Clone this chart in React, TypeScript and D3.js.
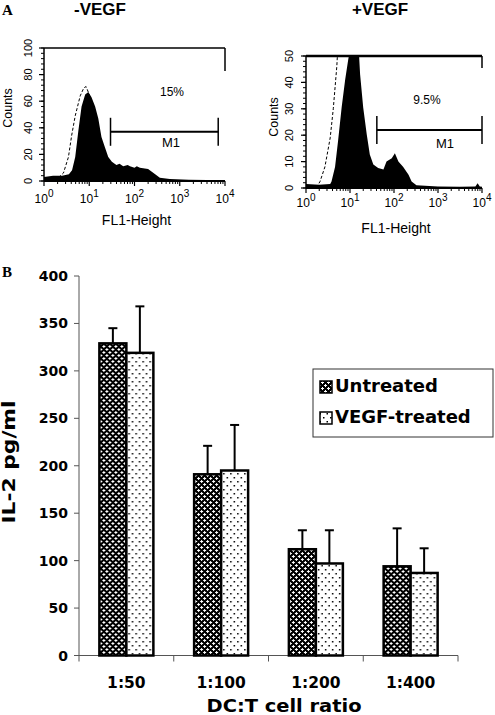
import React from 'react';
import * as d3 from 'd3';

const W = 495;
const H = 715;

// ---------- Panel A data (log10 FL1 position, counts) ----------
const negFilledLog = [0, 0.2, 0.4, 0.55, 0.62, 0.69, 0.76, 0.83, 0.91, 0.98, 1.05, 1.13, 1.2, 1.27, 1.35, 1.42, 1.5, 1.6, 1.67, 1.75, 1.85, 1.9, 2.0, 2.05, 2.12, 2.19, 2.3, 2.42, 2.56, 2.78, 3.2, 3.6, 4];
const negFilledCount = [3, 4, 4, 5, 8, 18, 38, 56, 65, 67, 63, 56, 47, 33, 25, 18, 14.5, 12, 13, 11, 12, 11, 10, 11, 10, 9.5, 9, 6, 2.5, 1.5, 1, 0.8, 0.5];
const negIsoLog = [0, 0.21, 0.33, 0.43, 0.54, 0.61, 0.69, 0.8, 0.88, 0.93, 1.0, 1.1, 1.2, 1.35, 1.5, 1.75, 2, 2.5];
const negIsoCount = [1, 1, 3, 6, 18, 34, 49, 64, 70, 71, 65, 50, 30, 12, 5, 2, 1, 0.5];

const posFilledLog = [0, 0.3, 0.55, 0.58, 0.66, 0.73, 0.81, 0.89, 0.96, 1.04, 1.12, 1.19, 1.23, 1.3, 1.38, 1.45, 1.53, 1.64, 1.76, 1.83, 1.95, 2.02, 2.1, 2.21, 2.33, 2.4, 2.51, 3, 3.5, 3.85, 3.9, 3.95, 4];
const posFilledCount = [1.5, 1.2, 1.5, 2.5, 8, 18, 30.5, 41, 48.7, 56, 60, 55, 43, 30.5, 20.4, 12.7, 8.9, 7.6, 7, 10, 11.3, 13.2, 10, 8, 5, 2.5, 1, 0.6, 0.5, 0.6, 1.8, 0.6, 0.5];
const posIsoLog = [0, 0.25, 0.32, 0.43, 0.55, 0.62, 0.7, 0.73, 0.8, 0.95, 1.05, 1.2, 1.4, 1.7, 2];
const posIsoCount = [0, 0.5, 2.5, 8, 19, 30, 46, 55, 62, 62, 45, 20, 5, 1, 0.5];

const decades = [0, 1, 2, 3, 4];
const negYTicks = [0, 20, 40, 60, 80, 100];
const posYTicks = [0, 10, 20, 30, 40, 50];
const negGate = [1.47, 3.85];
const posGate = [1.61, 4.0];
const negGateCount = 37;
const posGateCount = 22;
const negPercent = '15%';
const posPercent = '9.5%';

// ---------- Panel B data ----------
const ratios = ['1:50', '1:100', '1:200', '1:400'];
const seriesNames = ['Untreated', 'VEGF-treated'];
const untreated = [329, 191, 112, 94];
const untreatedErr = [16, 30, 20, 40];
const vegfTreated = [319, 195, 97, 87];
const vegfErr = [49, 48, 35, 26];
const bYTicks = [0, 50, 100, 150, 200, 250, 300, 350, 400];

const ARIAL = '"Liberation Sans", Arial, sans-serif';
const VERD = '"DejaVu Sans", Verdana, sans-serif';
const SERIF = '"Liberation Serif", "Times New Roman", serif';

type HistProps = {
  id: string;
  xr: [number, number];
  yr: [number, number];
  yMax: number;
  minorStep: number;
  yTicks: number[];
  filledLog: number[];
  filledCount: number[];
  isoLog: number[];
  isoCount: number[];
  gate: number[];
  gateCount: number;
  percent: string;
  percentPos: [number, number];
  m1Pos: [number, number];
  title: string;
  titleX: number;
  tickBaseline: number;
  xLabelBaseline: number;
  yLabelX: number;
  countsX: number;
  countsY: number;
  topWidth: number;
  rightEnd: number;
};

function Histogram(p: HistProps) {
  const x = d3.scaleLinear().domain([0, 4]).range(p.xr);
  const y = d3.scaleLinear().domain([0, p.yMax]).range(p.yr);
  const filled = p.filledLog.map((l, i) => [l, p.filledCount[i]] as [number, number]);
  const iso = p.isoLog.map((l, i) => [l, p.isoCount[i]] as [number, number]);
  const area = d3.area<[number, number]>().x(d => x(d[0])).y0(y(0)).y1(d => y(d[1]));
  const line = d3.line<[number, number]>().x(d => x(d[0])).y(d => y(d[1]));
  const minor: number[] = d3.range(0, p.yMax + 0.001, p.minorStep);
  const logMinor: number[] = [];
  for (let d = 0; d < 4; d++) for (let k = 2; k <= 9; k++) logMinor.push(d + Math.log10(k));
  const [x0, x1] = p.xr;
  const [yb, yt] = p.yr;
  return (
    <g>
      <defs>
        <clipPath id={p.id}>
          <rect x={x0} y={yt} width={x1 - x0} height={yb - yt} />
        </clipPath>
      </defs>
      <text x={p.titleX} y={15} textAnchor="middle" fontFamily={ARIAL} fontWeight="bold" fontSize={17}>{p.title}</text>
      <g clipPath={`url(#${p.id})`}>
        <path d={line(iso) || ''} fill="none" stroke="#000" strokeWidth={1} strokeDasharray="3,2" />
        <path d={area(filled) || ''} fill="#000" />
      </g>
      {/* frame */}
      <line x1={x0} x2={x0} y1={yb} y2={yt} stroke="#000" strokeWidth={1.5} />
      <line x1={x0} x2={x1} y1={yb} y2={yb} stroke="#000" strokeWidth={2} />
      <line x1={x0} x2={x1} y1={yt} y2={yt} stroke="#000" strokeWidth={p.topWidth} />
      <line x1={x1} x2={x1} y1={yt} y2={p.rightEnd} stroke="#000" strokeWidth={1.5} />
      {/* y ticks */}
      {minor.map(v => (
        <line key={'ym' + v} x1={x0 - 3} x2={x0} y1={y(v)} y2={y(v)} stroke="#000" strokeWidth={1} />
      ))}
      {p.yTicks.map(v => (
        <g key={'yt' + v}>
          <line x1={x0 - 5} x2={x0} y1={y(v)} y2={y(v)} stroke="#000" strokeWidth={1.2} />
          <text transform={`translate(${p.yLabelX},${y(v)}) rotate(-90)`} textAnchor="middle" fontFamily={ARIAL} fontSize={11}>{v}</text>
        </g>
      ))}
      <text transform={`translate(${p.countsX},${p.countsY}) rotate(-90)`} textAnchor="middle" fontFamily={ARIAL} fontSize={12.5}>Counts</text>
      {/* x ticks */}
      {logMinor.map(v => (
        <line key={'xm' + v} x1={x(v)} x2={x(v)} y1={yb} y2={yb + 3} stroke="#000" strokeWidth={1} />
      ))}
      {decades.map(d => (
        <g key={'xd' + d}>
          <line x1={x(d)} x2={x(d)} y1={yb} y2={yb + 5} stroke="#000" strokeWidth={1.2} />
          <text x={x(d)} y={p.tickBaseline} textAnchor="middle" fontFamily={ARIAL} fontSize={12}>
            10<tspan dy={-6} fontSize={10}>{d}</tspan>
          </text>
        </g>
      ))}
      <text x={(x0 + x1) / 2 + 2} y={p.xLabelBaseline} textAnchor="middle" fontFamily={ARIAL} fontSize={14}>FL1-Height</text>
      {/* gate */}
      <line x1={x(p.gate[0])} x2={x(p.gate[1])} y1={y(p.gateCount)} y2={y(p.gateCount)} stroke="#000" strokeWidth={2} />
      <line x1={x(p.gate[0])} x2={x(p.gate[0])} y1={y(p.gateCount) - 14} y2={y(p.gateCount) + 14} stroke="#000" strokeWidth={1.5} />
      <line x1={x(p.gate[1])} x2={x(p.gate[1])} y1={y(p.gateCount) - 14} y2={y(p.gateCount) + 14} stroke="#000" strokeWidth={1.5} />
      <text x={p.percentPos[0]} y={p.percentPos[1]} textAnchor="middle" fontFamily={ARIAL} fontSize={12}>{p.percent}</text>
      <text x={p.m1Pos[0]} y={p.m1Pos[1]} textAnchor="middle" fontFamily={ARIAL} fontSize={13}>M1</text>
    </g>
  );
}

function BarChart() {
  const x = d3.scaleBand<string>().domain(ratios).range([79, 458]).padding(0);
  const bw = x.bandwidth();
  const groupW = 54;
  const x1 = d3.scaleBand<string>().domain(seriesNames).range([0, groupW]).padding(0);
  const y = d3.scaleLinear().domain([0, 400]).range([655.5, 276]);
  const values = [untreated, vegfTreated];
  const errs = [untreatedErr, vegfErr];
  const fills = ['url(#crossPat)', 'url(#dotPat)'];
  const boundaries = [0, 1, 2, 3, 4].map(i => 79 + i * bw);
  return (
    <g>
      <text x={2} y={277} fontFamily={SERIF} fontWeight="bold" fontSize={15}>B</text>
      {/* axes */}
      <line x1={79} x2={79} y1={y(400)} y2={y(0)} stroke="#555" strokeWidth={1} />
      <line x1={79} x2={458} y1={y(0)} y2={y(0)} stroke="#555" strokeWidth={1} />
      {bYTicks.map(v => (
        <g key={'by' + v}>
          <line x1={74} x2={79} y1={y(v)} y2={y(v)} stroke="#555" strokeWidth={1} />
          <text x={68} y={y(v) + 5} textAnchor="end" fontFamily={VERD} fontWeight="bold" fontSize={14}>{v}</text>
        </g>
      ))}
      {boundaries.map((b, i) => (
        <line key={'bx' + i} x1={b} x2={b} y1={y(0)} y2={y(0) + 6} stroke="#555" strokeWidth={1} />
      ))}
      {ratios.map(r => (
        <text key={'lab' + r} x={(x(r) as number) + bw / 2} y={688} textAnchor="middle" fontFamily={VERD} fontWeight="bold" fontSize={15.5}>{r}</text>
      ))}
      {/* bars */}
      {ratios.map((r, i) => (
        <g key={'grp' + r} transform={`translate(${(x(r) as number) + (bw - groupW) / 2},0)`}>
          {seriesNames.map((s, j) => {
            const bx = x1(s) as number;
            const v = values[j][i];
            const e = errs[j][i];
            const cx = bx + x1.bandwidth() / 2;
            return (
              <g key={s}>
                <line x1={cx} x2={cx} y1={y(v)} y2={y(v + e)} stroke="#000" strokeWidth={2} />
                <line x1={cx - 4.5} x2={cx + 4.5} y1={y(v + e)} y2={y(v + e)} stroke="#000" strokeWidth={2} />
                <rect x={bx} y={y(v)} width={x1.bandwidth()} height={y(0) - y(v)} fill={fills[j]} stroke="#000" strokeWidth={2.5} />
              </g>
            );
          })}
        </g>
      ))}
      {/* axis titles */}
      <text transform="translate(15,462) rotate(-90)" textAnchor="middle" fontFamily={VERD} fontWeight="bold" fontSize={17} textLength={123} lengthAdjust="spacingAndGlyphs">IL-2 pg/ml</text>
      <text x={284} y={712} textAnchor="middle" fontFamily={VERD} fontWeight="bold" fontSize={18} textLength={155} lengthAdjust="spacingAndGlyphs">DC:T cell ratio</text>
      {/* legend */}
      <rect x={313} y={369} width={180} height={68} fill="#fff" stroke="#333" strokeWidth={1} />
      {seriesNames.map((s, j) => (
        <g key={'leg' + s}>
          <rect x={320} y={381 + j * 31} width={12} height={12} fill={fills[j]} stroke="#000" strokeWidth={1.5} />
          <text x={335} y={392 + j * 31} fontFamily={VERD} fontWeight="bold" fontSize={18}>{s}</text>
        </g>
      ))}
    </g>
  );
}

export default function App() {
  return (
    <svg width={W} height={H} style={{ position: 'absolute', left: 0, top: 0, background: '#fff' }}>
      <defs>
        <pattern id="crossPat" patternUnits="userSpaceOnUse" width={6} height={6}>
          <rect x={0} y={0} width={6} height={6} fill="#000" />
          <rect x={0} y={1} width={3} height={1} fill="#fff" />
          <rect x={1} y={0} width={1} height={3} fill="#fff" />
          <rect x={3} y={4} width={3} height={1} fill="#fff" />
          <rect x={4} y={3} width={1} height={3} fill="#fff" />
        </pattern>
        <pattern id="dotPat" patternUnits="userSpaceOnUse" width={7} height={8}>
          <rect x={0} y={0} width={7} height={8} fill="#fff" />
          <rect x={1} y={1} width={1.5} height={1.5} fill="#000" />
          <rect x={4.5} y={5} width={1.5} height={1.5} fill="#000" />
        </pattern>
      </defs>
      <rect x={0} y={0} width={W} height={H} fill="#fff" />
      <text x={2} y={15} fontFamily={SERIF} fontWeight="bold" fontSize={15}>A</text>
      <Histogram
        id="clipNeg" xr={[44, 225]} yr={[181, 48]} yMax={100} minorStep={4} yTicks={negYTicks}
        filledLog={negFilledLog} filledCount={negFilledCount} isoLog={negIsoLog} isoCount={negIsoCount}
        gate={negGate} gateCount={negGateCount} percent={negPercent} percentPos={[172, 96]} m1Pos={[171, 147]}
        title="-VEGF" titleX={100} tickBaseline={203} xLabelBaseline={225} yLabelX={32}
        countsX={12} countsY={108} topWidth={1.5} rightEnd={71}
      />
      <Histogram
        id="clipPos" xr={[306, 482]} yr={[188, 56]} yMax={50} minorStep={2} yTicks={posYTicks}
        filledLog={posFilledLog} filledCount={posFilledCount} isoLog={posIsoLog} isoCount={posIsoCount}
        gate={posGate} gateCount={posGateCount} percent={posPercent} percentPos={[427, 104]} m1Pos={[445, 148]}
        title="+VEGF" titleX={380} tickBaseline={207} xLabelBaseline={233} yLabelX={293}
        countsX={278} countsY={117} topWidth={2.5} rightEnd={68}
      />
      <BarChart />
    </svg>
  );
}
